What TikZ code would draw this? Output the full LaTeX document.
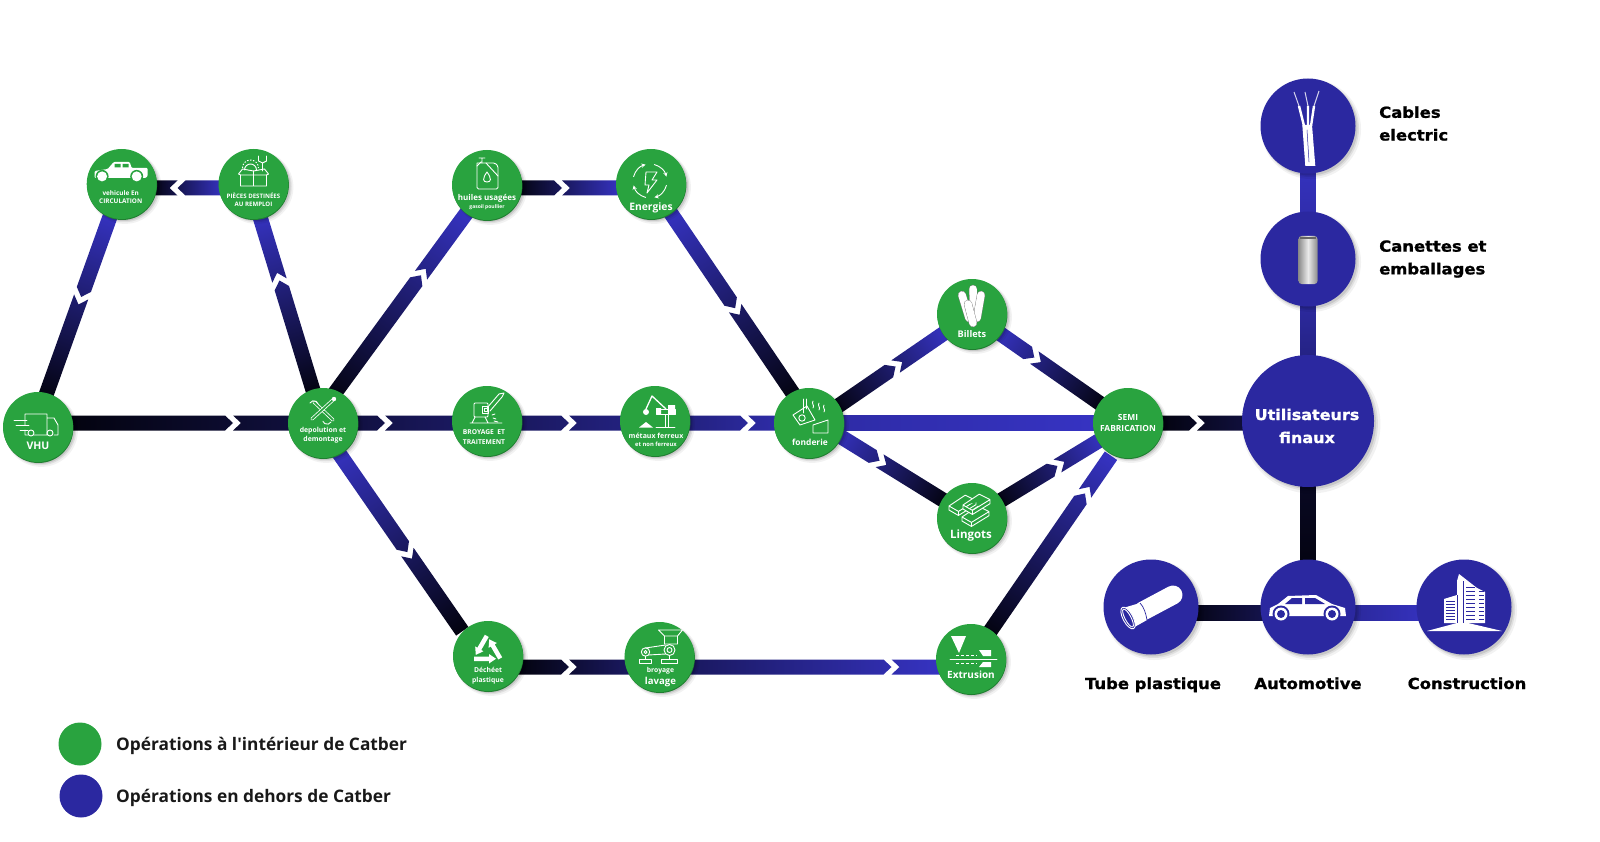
\documentclass[tikz,border=0pt]{standalone}
\usepackage{fontspec}
\setmainfont{Open Sans}
\newfontfamily\headfont{DejaVu Sans}[FakeStretch=1.08,BoldFeatures={FakeBold=1.2}]
\usetikzlibrary{calc,backgrounds,shadows}

\definecolor{catgreen}{HTML}{29A33F}
\definecolor{catblue}{HTML}{2B28A0}
\definecolor{flowblue}{HTML}{3633C2}
\definecolor{flowblack}{HTML}{03030F}

\tikzset{
  softshadow/.style={
    general shadow={shadow xshift=3pt,shadow yshift=-3pt,shadow scale=1.05,fill=black,opacity=.05},
    general shadow={shadow xshift=2.5pt,shadow yshift=-2.5pt,shadow scale=1.02,fill=black,opacity=.08},
    general shadow={shadow xshift=2pt,shadow yshift=-2pt,fill=black,opacity=.1}},
  opnode/.style={circle,fill=catgreen,minimum size=70pt,inner sep=0pt,softshadow,
    general shadow={shadow xshift=.4pt,shadow yshift=-1pt,fill=catgreen!78!black}},
  usenode/.style={circle,fill=catblue,minimum size=95pt,inner sep=0pt,softshadow},
  legendnode/.style={circle,minimum size=43pt,inner sep=0pt},
  oplabel/.style 2 args={text=white,align=center,inner sep=0pt,font=\bfseries\fontsize{#1}{#2}\selectfont},
  uselabel/.style={text=black,inner sep=0pt,align=left,font=\headfont\bfseries\fontsize{15.2}{22.7}\selectfont},
  legendlabel/.style={text=black!90,anchor=west,inner sep=0pt,font=\bfseries\fontsize{17.3}{20}\selectfont},
  iconline/.style={draw=white,line width=.9pt,line join=round,line cap=round},
  iconfill/.style={fill=white},
  tooline/.style={draw=white,line width=.8pt,double=catgreen,double distance=1.7pt,line cap=round},
  rodline/.style={draw=black!50,line width=.4pt,double=white,double distance=7.5pt,line cap=round}
}

% from, to, distance of the chevron tip (0 for a plain bar), colour at from, colour at to
\newcommand{\flowlink}[5]{
  \path let \p1=(#1), \p2=(#2) in \pgfextra{
    \pgfmathsetmacro\flowang{atan2(\y2-\y1,\x2-\x1)}
    \pgfmathsetmacro\flowlen{veclen(\x2-\x1,\y2-\y1)}
    \pgfmathsetmacro\flowx{\x1}
    \pgfmathsetmacro\flowy{\y1}
    \xdef\flowang{\flowang}\xdef\flowlen{\flowlen}\xdef\flowx{\flowx}\xdef\flowy{\flowy}};
  \begin{scope}[transform canvas={shift={(\flowx pt,\flowy pt)},rotate=\flowang}]
    \ifnum#3>0
      \clip (0,-7.5pt) -- (#3pt-8pt,-7.5pt) -- (#3pt,0) -- (#3pt-8pt,7.5pt) -- (0,7.5pt) -- cycle
        (#3pt,-7.5pt) -- (\flowlen pt,-7.5pt) -- (\flowlen pt,7.5pt) -- (#3pt,7.5pt) -- (#3pt+8pt,0) -- cycle;
    \fi
    \shade[left color=#4,right color=#5] (30pt,-7.5pt) rectangle (\flowlen pt-30pt,7.5pt);
  \end{scope}
}

\begin{document}
\begin{tikzpicture}[x=1pt,y=-1pt]
  \useasboundingbox (0,0) rectangle (1600,842);

  % Nodes
  \node (vhu) [opnode] at (38,427) {};
  \node (vehicule) [opnode] at (121.7,184) {};
  \node (pieces) [opnode] at (253.5,184) {};
  \node (depol) [opnode] at (323,423) {};
  \node (huiles) [opnode] at (487,185) {};
  \node (energies) [opnode] at (651,184) {};
  \node (broyage) [opnode] at (487,421) {};
  \node (metaux) [opnode] at (655,421) {};
  \node (fonderie) [opnode] at (809,423) {};
  \node (billets) [opnode] at (972,314) {};
  \node (lingots) [opnode] at (972,518) {};
  \node (semi) [opnode] at (1128,423) {};
  \node (dechet) [opnode] at (488,656) {};
  \node (lavage) [opnode] at (659.5,657) {};
  \node (extrusion) [opnode] at (971,659) {};
  \node (users) [usenode,minimum size=132pt] at (1308,421) {};
  \node (cables) [usenode,general shadow={fill=none}] at (1308,126) {};
  \node (canettes) [usenode] at (1308,259) {};
  \node (tube) [usenode] at (1151,607) {};
  \node (auto) [usenode] at (1308,607) {};
  \node (construction) [usenode] at (1464,607) {};
  \node (legin) [legendnode,fill=catgreen] at (80,744) {};
  \node (legout) [legendnode,fill=catblue] at (81,796) {};

  % Edges
  \begin{pgfonlayer}{background}
    \flowlink{vehicule}{$(vhu)+(-3.5,0)$}{120}{flowblue}{flowblack}
    \flowlink{$(pieces)+(0,4)$}{$(vehicule)+(0,4)$}{76}{flowblue}{flowblack}
    \flowlink{depol}{$(pieces)+(-3.5,0)$}{149}{flowblack}{flowblue}
    \flowlink{$(vhu)+(0,-4)$}{depol}{195}{flowblack}{flowblue!25!flowblack}
    \flowlink{depol}{$(broyage)+(0,2)$}{62}{flowblue!28!flowblack}{flowblue!45!flowblack}
    \flowlink{$(broyage)+(0,2)$}{$(metaux)+(0,2)$}{82}{flowblue!45!flowblack}{flowblue!62!flowblack}
    \flowlink{$(metaux)+(0,2)$}{fonderie}{93}{flowblue!62!flowblack}{flowblue!85!flowblack}
    \flowlink{fonderie}{semi}{0}{flowblue!85!flowblack}{flowblue}
    \flowlink{$(depol)+(-10,0)$}{huiles}{183}{flowblack}{flowblue}
    \flowlink{$(huiles)+(0,3)$}{$(energies)+(0,4)$}{75}{flowblack}{flowblue}
    \flowlink{energies}{$(fonderie)+(4,0)$}{150}{flowblue}{flowblack}
    \flowlink{$(fonderie)+(0,3)$}{billets}{105}{flowblack}{flowblue}
    \flowlink{billets}{semi}{76}{flowblue}{flowblack}
    \flowlink{$(fonderie)+(0,-6)$}{lingots}{83}{flowblue}{flowblack}
    \flowlink{lingots}{semi}{100}{flowblack}{flowblue}
    \flowlink{$(depol)+(-5,0)$}{$(dechet)+(-8.6,0)$}{157}{flowblue}{flowblack}
    \flowlink{$(dechet)+(0,11)$}{$(lavage)+(0,10)$}{81}{flowblack}{flowblue!45!flowblack}
    \flowlink{$(lavage)+(0,10)$}{$(extrusion)+(0,8)$}{232}{flowblue!45!flowblack}{flowblue}
    \flowlink{extrusion}{$(semi)+(0,8)$}{201}{flowblack}{flowblue}
    \flowlink{semi}{$(users)+(0,2)$}{69}{flowblack}{flowblue!35!flowblack}
    \flowlink{cables}{canettes}{0}{flowblue}{flowblue!85!flowblack}
    \flowlink{canettes}{users}{0}{flowblue!85!flowblack}{flowblue!55!flowblack}
    \flowlink{users}{auto}{0}{flowblue!15!flowblack}{flowblack}
    \flowlink{$(tube)+(0,6)$}{$(auto)+(0,6)$}{0}{flowblack}{flowblue!40!flowblack}
    \flowlink{$(auto)+(0,6)$}{$(construction)+(0,6)$}{0}{flowblue!75!flowblack}{flowblue}
  \end{pgfonlayer}

  % Labels
  \node (vhulabel) [oplabel={10.5}{12}] at ($(vhu)+(0,19)$) {VHU};
  \node (vehiculelabel) [oplabel={6.4}{8.4}] at ($(vehicule)+(-1,13)$) {vehicule En\\CIRCULATION};
  \node (pieceslabel) [oplabel={6.1}{8.2}] at ($(pieces)+(0,16)$) {PIÈCES DESTINÉES\\AU REMPLOI};
  \node (depollabel) [oplabel={6.9}{9.2}] at ($(depol)+(0,12)$) {depolution et\\demontage};
  \node (huileslabel) [oplabel={8}{9}] at ($(huiles)+(0,13)$) {huiles usagées};
  \node (gasoillabel) [oplabel={5}{6}] at ($(huiles)+(0,22)$) {gasoil poullier};
  \node (energieslabel) [oplabel={10.3}{11}] at ($(energies)+(0,24)$) {Energies};
  \node (broyagelabel) [oplabel={6.7}{9.2}] at ($(broyage)+(-3,16)$) {BROYAGE~~ET\\TRAITEMENT};
  \node (metauxlabel) [oplabel={7}{9}] at ($(metaux)+(1,15)$) {métaux ferreux};
  \node (ferreuxlabel) [oplabel={5.8}{8}] at ($(metaux)+(1,23)$) {et non ferreux};
  \node (fonderielabel) [oplabel={8.4}{10}] at ($(fonderie)+(1,19)$) {fonderie};
  \node (billetslabel) [oplabel={9.2}{10}] at ($(billets)+(0,20)$) {Billets};
  \node (lingotslabel) [oplabel={11.5}{12}] at ($(lingots)+(-1,18)$) {Lingots};
  \node (semilabel) [oplabel={8.4}{11.4}] at ($(semi)+(0,0)$) {SEMI\\FABRICATION};
  \node (dechetlabel) [oplabel={6.8}{10}] at ($(dechet)+(0,20)$) {Déchéet\\plastique};
  \node (lavagelabel) [oplabel={6.8}{9}] at ($(lavage)+(1,14)$) {broyage};
  \node (lavagelabelb) [oplabel={9.6}{10}] at ($(lavage)+(1,25)$) {lavage};
  \node (extrusionlabel) [oplabel={10}{10}] at ($(extrusion)+(0,16)$) {Extrusion};
  \node (userslabel) [text=white,align=center,inner sep=0pt,font=\headfont\bfseries\fontsize{14.8}{23}\selectfont] at ($(users)+(-1,5)$) {Utilisateurs\\finaux};
  \node (cableslabel) [uselabel,anchor=west] at (1379,123.5) {Cables\\electric};
  \node (canetteslabel) [uselabel,anchor=west] at (1379,259) {Canettes et\\emballages};
  \node (tubelabel) [uselabel,anchor=base] at (1153,689) {Tube plastique};
  \node (autolabel) [uselabel,anchor=base] at (1308,689) {Automotive};
  \node (constructionlabel) [uselabel,anchor=base] at (1467,689) {Construction};
  \node (leginlabel) [legendlabel] at (116,746) {Opérations à l\textquotesingle intérieur de Catber};
  \node (legoutlabel) [legendlabel] at (116,798) {Opérations en dehors de Catber};

  % Icons, drawn around their node
  \begin{scope}[shift={(vhu)}]
    \draw[iconline] (-10,8) -- (-13,8) -- (-13,3) (-13,-2) -- (-13,-13) -- (9,-13) -- (9,8) -- (-4,8) (9,-9) -- (16,-9) -- (20,-2) -- (20,8) -- (16,8) (9,8) -- (8,8);
    \draw[iconline] (-7,6) circle (3) (12,6) circle (3);
    \draw[iconline] (-24,-7) -- (-11,-7) (-22,-2) -- (-9,-2) (-18,3) -- (-10,3);
  \end{scope}
  \begin{scope}[shift={(vehicule)}]
    \fill[iconfill,rounded corners=1pt] (-27,-6) -- (-27,-13) -- (-14,-15) -- (-8,-22) -- (8,-22) -- (10,-16) -- (26,-16) -- (26,-8) -- (24,-6) -- cycle;
    \fill[catgreen] (-7,-20) rectangle (-1,-16.5) (1,-20) rectangle (7,-16.5);
    \fill[catgreen] (-19.6,-7.6) circle (6.5) (15,-7.6) circle (6.5);
    \fill[iconfill] (-19.6,-7.6) circle (5) (15,-7.6) circle (5);
  \end{scope}
  \begin{scope}[shift={(pieces)}]
    \draw[iconline] (-13,-9) rectangle (13,2) (0,-9) -- (0,2) (-13,-9) -- (-15,-10) -- (-11,-15) -- (0,-13) -- (11,-15) -- (15,-10) -- (13,-9);
    \draw[iconline] (-9,-14) arc (180:360:6) (0,-13) -- (0,-9);
    \draw[iconline,dash pattern=on 1.5pt off 1.5pt,line cap=butt] (-11,-16) arc (180:360:8);
    \draw[iconline] (9,-13) -- (9,-21) (5,-28) -- (5,-23) -- (9,-21) -- (13,-23) -- (13,-28);
  \end{scope}
  \begin{scope}[shift={(depol)}]
    \draw[tooline] (-9,-21) -- (10,-3);
    \draw[tooline] (11,-24) -- (-11,-4);
    \draw[iconline] (-13,-20) arc (210:340:4.5) (8,-1) arc (30:160:4.5);
    \fill[iconfill] (11,-24) circle (2.2);
  \end{scope}
  \begin{scope}[shift={(huiles)}]
    \draw[iconline,rounded corners=1.5pt] (-10,-22) -- (-10,4) -- (11,4) -- (11,-19) -- (8,-22) -- (-1,-22) (-10,-22) -- (-5,-22) -- (-1,-22);
    \draw[iconline] (-8,-27) -- (-2,-27) (-5,-27) -- (-5,-22) (-10,-19) -- (-6,-23) (-1,-22) -- (11,-9);
    \draw[iconline] (0,-13) .. controls (-5,-6) and (-4,-3) .. (0,-3) .. controls (4,-3) and (5,-6) .. (0,-13);
  \end{scope}
  \begin{scope}[shift={(energies)}]
    \foreach \a in {15,105,195,285}
      \draw[iconline,->,>=stealth] (-1,-3) ++(\a:17) arc (\a:\a+60:17);
    \draw[iconline] (-5,-12) -- (6,-12) -- (1,-4) -- (6,-4) -- (-4,9) -- (-2,1) -- (-6,1) -- cycle;
  \end{scope}
  \begin{scope}[shift={(broyage)}]
    \draw[iconline,rounded corners=1pt] (-13,-18) rectangle (1,-4);
    \draw[iconline] (-5,-15) rectangle (1,-8) (-3,-13) rectangle (0,-10);
    \draw[iconline] (-17,2) -- (15,2) (-12,-4) -- (-15,2) (-2,-4) -- (1,2);
    \draw[iconline] (0,-13) -- (12,-27) -- (17,-28) (3,-10) -- (15,-24) -- (17,-28);
    \draw[iconline] (6,-3) -- (9,-2) (5,-6) -- (8,-7) (7,0) -- (11,1);
  \end{scope}
  \begin{scope}[shift={(metaux)}]
    \draw[iconline] (1,6) -- (20,6) (10,-6) -- (10,6) (13,-6) -- (13,6);
    \draw[iconline] (1,-12) rectangle (20,-7);
    \fill[iconfill] (1,-13) rectangle (6,-7) (13,-16) rectangle (20,-7);
    \draw[iconline,line width=1.3pt] (11,-12) -- (-3,-25) -- (-9,-12);
    \fill[iconfill] (-9,-9) circle (3) (-16,6.5) -- (-9,1) -- (-2,6.5) -- cycle;
  \end{scope}
  \begin{scope}[shift={(fonderie)}]
    \draw[iconline] (-16,-8) -- (-2,-17) -- (6,-3) -- (-9,2) -- cycle;
    \draw[iconline] (-6,-24) -- (-6,-10) (-3,-24) -- (-3,-14);
    \draw[iconline] (-7,-5) circle (3.2);
    \draw[iconline] (4,2) -- (19,-3) -- (19,10) -- (4,10) -- cycle;
    \draw[iconline] (4,-22) .. controls (2,-19) and (6,-18) .. (4,-15) (10,-20) .. controls (8,-17) and (12,-16) .. (10,-13) (15,-18) .. controls (13,-15) and (17,-14) .. (15,-11);
  \end{scope}
  \begin{scope}[shift={(billets)}]
    \draw[rodline] (1,-25) -- (2,-2);
    \draw[rodline] (-10,-19) -- (-3,4);
    \draw[rodline] (9,-19) -- (5,4);
    \draw[rodline] (-4,-10) -- (1,9);
  \end{scope}
  \begin{scope}[shift={(lingots)}]
    \foreach \dx/\dy in {-23/-12,-10/-1,-9/-13}
      \filldraw[iconline,fill=catgreen,shift={(\dx,\dy)},scale=1.35] (0,0) -- (12,-8) -- (20,-4) -- (20,-1) -- (7,7) -- (0,3) -- cycle (0,0) -- (7,4) -- (20,-4) (7,4) -- (7,7);
  \end{scope}
  \begin{scope}[shift={(dechet)}]
    \foreach \a in {0,120,240}
      \fill[iconfill,shift={(-1,-5)},rotate=\a] (-13,5.5) -- (2,5.5) -- (2,3) -- (9,7.75) -- (2,12.5) -- (2,10) -- (-13,10) -- cycle;
  \end{scope}
  \begin{scope}[shift={(lavage)}]
    \draw[iconline] (-1,-27) -- (23,-27) -- (18,-21) -- (5,-21) -- cycle (5,-21) -- (5,-13) -- (18,-13) -- (18,-21);
    \draw[iconline] (10,-7) circle (5.5) (10,-7) circle (2.5) (-14,-5) circle (4.2) (-14,-5) circle (1.6);
    \draw[iconline] (-14,-9) -- (6,-12) (-11,-2) -- (6,-3) (10,-1) -- (10,2);
    \draw[iconline] (-20,6) rectangle (-8,2) (2,6) rectangle (18,2) (-14,-1) -- (-14,2);
  \end{scope}
  \begin{scope}[shift={(extrusion)}]
    \fill[iconfill] (-20,-23) -- (-5,-23) -- (-12,-6) -- cycle;
    \draw[iconline] (-21,0) -- (26,0);
    \draw[iconline,dash pattern=on 3pt off 2pt,line cap=butt] (-15,-4) -- (6,-4) (-15,4) -- (6,4);
    \fill[iconfill] (8,-9) -- (20,-9) -- (20,-3) -- (12,-3) -- cycle (8,8) -- (20,8) -- (20,3) -- (12,3) -- cycle;
  \end{scope}
  \begin{scope}[shift={(cables)}]
    \fill[iconfill] (-5.7,-1) -- (4,-1) -- (7.3,40) -- (-2.7,40) -- cycle;
    \draw[iconline,catblue,line width=.5pt] (-1,4) -- (1,36);
    \draw[draw=white,line width=2.4pt] (-4,0) -- (-9,-20) (0,0) -- (0,-20) (3,0) -- (6,-20);
    \draw[draw=white!80!catblue,line width=1pt] (-9,-20) -- (-14,-34) (0,-20) -- (-3,-34) (6,-20) -- (11,-35);
  \end{scope}
  \begin{scope}[shift={(canettes)}]
    \shade[left color=black!45,right color=black!45,middle color=black!8,rounded corners=3pt] (-9.5,-23) rectangle (9.5,25);
    \fill[black!60] (-8,-21.5) rectangle (8,-20);
  \end{scope}
  \begin{scope}[shift={(auto)}]
    \fill[iconfill] (-39,9) -- (-38,1) -- (-30,-3) -- (-20,-11) -- (8,-12) -- (24,-3) -- (37,1) -- (38,9) -- cycle;
    \fill[catblue] (-23,-3) -- (-16,-9) -- (-6,-9) -- (-6,-3) -- cycle (-3,-3) -- (-3,-9) -- (7,-9) -- (17,-3) -- cycle;
    \foreach \wx in {-27,24}{
      \fill[catblue] (\wx,7) circle (8.5);
      \fill[iconfill] (\wx,7) circle (6.5);
      \fill[catblue] (\wx,7) circle (4);}
  \end{scope}
  \begin{scope}[shift={(tube)}]
    \draw[draw=white,line width=19pt,line cap=round] (-8,4) -- (22,-12);
    \fill[iconfill] (-28,1) -- (-11,-4) -- (-4,13) -- (-20,22) -- cycle;
    \draw[draw=catblue,line width=.7pt] (-11,-4) .. controls (-7,0) and (-5,7) .. (-4,13);
    \filldraw[iconline,fill=catblue,rotate around={28:(-23,11)}] (-23,11) ellipse [x radius=5,y radius=12];
    \draw[iconline,rotate around={28:(-23,11)}] (-23,11) ellipse [x radius=3,y radius=10];
  \end{scope}
  \begin{scope}[shift={(construction)}]
    \fill[iconfill] (-37,24) -- (38,24) -- (4,16) -- (-7,16) -- cycle;
    \fill[iconfill] (-20,-8) -- (-7,-12) -- (-7,16) -- (-20,16) -- cycle;
    \fill[iconfill] (-7,-26) -- (-5,-33) -- (13,-19) -- (13,16) -- (-7,16) -- cycle;
    \fill[iconfill] (13,-19) -- (21,-15) -- (21,16) -- (13,16) -- cycle;
    \foreach \wy in {-20,-16,...,14}
      \draw[draw=catblue,line width=.8pt] (2,\wy) -- (11,\wy) (15,\wy) -- (20,\wy);
    \foreach \wy in {-6,-3,...,14}
      \draw[draw=catblue,line width=.6pt] (-18,\wy) -- (-9,\wy);
    \draw[draw=catblue,line width=.6pt] (-1,-26) -- (-1,16) (-7,-12) -- (-7,16);
  \end{scope}
\end{tikzpicture}
\end{document}
